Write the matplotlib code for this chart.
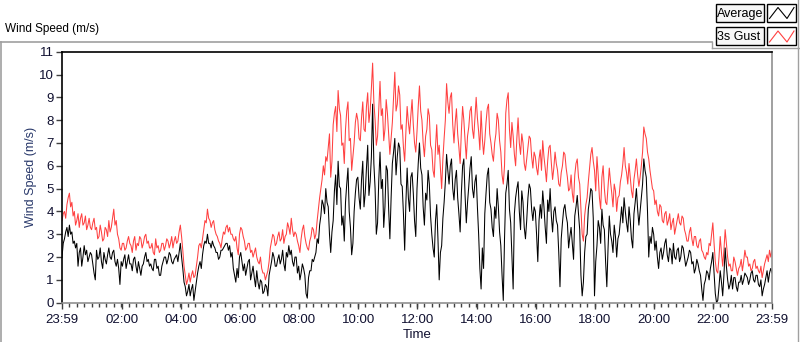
import numpy as np
import matplotlib
matplotlib.use("Agg")
from matplotlib import pyplot as plt
from matplotlib.lines import Line2D
from matplotlib.patches import Rectangle

plt.rcParams["font.family"] = ["Liberation Sans", "DejaVu Sans"]

# samples every 2.5 minutes, starting 23:59 (one row per hour)
SAMPLE_MIN = 2.5

gust_speed = [
    3.6, 3.9, 4.0, 3.7, 4.3, 4.6, 4.8, 4.2, 4.4, 3.8, 4.0, 3.4, 3.6, 3.9, 3.3, 3.7, 3.9, 3.4, 3.5, 3.8, 3.2, 3.4, 3.7, 3.3,
    3.2, 3.5, 3.7, 3.2, 3.3, 2.8, 2.9, 3.4, 3.1, 2.7, 2.8, 3.3, 3.2, 2.9, 3.6, 3.1, 3.3, 3.7, 4.1, 3.4, 3.6, 3.0, 2.8, 2.4,
    2.3, 2.6, 2.6, 2.3, 2.4, 2.7, 2.9, 2.6, 2.5, 2.2, 2.7, 2.9, 2.3, 2.6, 2.5, 2.9, 2.8, 2.4, 2.6, 2.9, 3.0, 2.6, 2.7, 2.4,
    2.4, 2.6, 2.2, 2.1, 2.8, 2.4, 2.5, 2.2, 2.3, 2.6, 2.6, 2.3, 2.5, 2.8, 2.7, 2.4, 2.6, 2.9, 2.4, 2.7, 2.9, 2.6, 2.7, 3.1,
    3.4, 2.9, 2.3, 1.6, 1.2, 0.8, 1.0, 1.3, 0.9, 1.2, 1.4, 1.1, 1.2, 1.6, 2.0, 2.5, 2.6, 2.4, 2.8, 3.2, 3.6, 3.5, 4.1, 3.7,
    3.6, 3.3, 3.5, 3.6, 3.2, 3.0, 2.9, 2.7, 2.6, 2.4, 2.8, 3.1, 3.0, 3.3, 3.4, 3.1, 3.3, 3.0, 3.0, 2.8, 2.7, 2.9, 2.4, 2.1,
    3.0, 3.3, 3.2, 2.9, 2.7, 2.3, 2.4, 2.6, 2.6, 2.2, 2.3, 2.0, 2.2, 2.4, 2.0, 1.8, 1.7, 2.0, 1.5, 1.3, 1.3, 1.0, 1.2, 1.4,
    1.8, 2.4, 2.7, 3.0, 2.9, 2.5, 2.6, 2.9, 3.1, 2.7, 2.8, 3.2, 2.6, 2.9, 3.0, 3.5, 3.3, 3.0, 3.7, 3.2, 2.9, 3.1, 3.0, 2.7,
    2.5, 2.2, 2.8, 3.2, 3.4, 2.9, 2.6, 2.4, 2.3, 2.7, 2.9, 3.3, 3.2, 2.8, 3.0, 3.6, 4.1, 4.6, 5.0, 5.4, 6.0, 5.6, 6.4, 6.2,
    6.8, 7.4, 5.5, 6.2, 7.8, 8.3, 8.6, 7.5, 9.3, 8.5, 8.2, 6.9, 7.0, 6.1, 7.6, 8.4, 8.8, 7.1, 7.2, 5.8, 6.4, 7.0, 7.9, 8.3,
    8.0, 7.2, 7.1, 8.1, 8.8, 7.6, 7.5, 8.6, 9.2, 7.9, 8.4, 9.4, 10.5, 8.8, 8.0, 6.9, 7.3, 8.5, 9.7, 8.2, 8.5, 7.1, 7.6, 8.9,
    8.3, 7.4, 6.5, 7.2, 7.9, 9.0, 10.1, 8.4, 8.7, 9.5, 9.1, 7.6, 7.8, 6.8, 6.2, 7.5, 8.6, 7.9, 7.4, 8.2, 8.9, 7.8, 7.0, 6.6,
    7.5, 8.6, 9.5, 8.4, 8.0, 7.0, 6.4, 7.3, 7.6, 8.5, 8.2, 6.9, 6.7, 5.8, 5.5, 6.8, 7.8, 6.5, 6.9, 5.9, 5.0, 6.3, 7.2, 8.0,
    9.6, 8.8, 8.3, 9.0, 9.2, 7.8, 7.0, 7.9, 8.5, 7.4, 6.8, 6.1, 7.5, 8.6, 8.0, 7.1, 6.3, 7.3, 7.7, 8.4, 8.6, 7.6, 7.2, 8.1,
    9.0, 8.1, 7.5, 6.7, 8.4, 7.2, 6.5, 7.1, 7.9, 8.5, 8.7, 7.4, 7.0, 6.5, 6.2, 7.0, 7.4, 8.3, 8.0, 7.1, 6.6, 5.6, 5.2, 6.0,
    8.3, 8.9, 9.2, 7.6, 6.8, 7.9, 7.3, 6.5, 6.0, 7.2, 8.1, 7.0, 6.5, 7.4, 7.0, 6.1, 5.8, 6.3, 6.8, 7.3, 7.2, 6.4, 5.9, 6.6,
    6.4, 5.9, 5.6, 6.3, 6.7, 5.8, 7.1, 6.4, 5.9, 5.3, 6.2, 6.8, 6.9, 6.1, 5.4, 5.9, 6.6, 6.1, 5.8, 5.2, 5.1, 5.7, 6.0, 6.6,
    6.5, 5.9, 5.5, 4.9, 5.0, 5.6, 4.8, 4.4, 5.6, 6.1, 6.3, 5.5, 5.2, 4.1, 3.0, 2.7, 3.8, 4.3, 4.6, 5.3, 5.9, 6.5, 6.8, 6.2,
    5.8, 4.9, 6.4, 5.6, 4.6, 4.1, 5.5, 6.0, 5.0, 4.4, 4.3, 5.1, 5.9, 5.3, 4.8, 4.2, 5.2, 4.9, 4.0, 4.6, 4.7, 5.3, 5.6, 6.1,
    6.8, 6.0, 5.7, 5.2, 6.1, 5.5, 4.9, 4.6, 5.4, 5.8, 6.3, 5.6, 5.1, 5.5, 6.0, 6.6, 7.7, 7.4, 7.2, 6.6, 6.3, 5.8, 5.4, 5.0,
    4.9, 4.3, 4.5, 4.0, 3.8, 4.3, 4.2, 3.6, 3.5, 3.9, 4.0, 3.4, 3.6, 3.9, 3.2, 3.5, 3.7, 3.0, 3.3, 3.6, 3.9, 3.5, 3.4, 3.8,
    3.7, 3.2, 3.0, 2.7, 2.7, 3.1, 3.3, 2.8, 2.5, 2.9, 2.9, 2.5, 2.4, 2.7, 2.8, 2.3, 2.2, 2.0, 1.9, 2.2, 2.1, 2.6, 2.5, 3.0,
    3.5, 2.6, 1.8, 1.4, 1.3, 2.0, 2.9, 2.2, 1.6, 2.3, 3.2, 2.6, 2.0, 1.6, 1.7, 1.4, 1.4, 2.0, 1.8, 1.5, 1.2, 1.5, 1.6, 1.9,
    1.4, 1.8, 2.3, 2.0, 2.0, 1.6, 1.7, 1.4, 1.5, 1.8, 1.9, 1.5, 1.6, 1.4, 1.3, 1.6, 1.1, 1.4, 1.7, 1.9, 2.1, 1.8, 2.3, 2.0,
    2.3,
]

avg_speed = [
    2.0, 2.6, 2.8, 3.1, 3.3, 2.9, 3.4, 3.0, 3.1, 2.6, 2.7, 2.4, 2.6, 1.6, 2.2, 2.4, 1.6, 2.0, 2.5, 2.1, 2.3, 1.8, 2.0, 2.2,
    2.1, 1.7, 1.3, 1.0, 2.3, 1.9, 2.0, 2.4, 1.8, 1.5, 2.2, 1.9, 1.7, 2.1, 2.4, 2.0, 1.9, 2.2, 2.3, 1.8, 1.6, 1.9, 1.5, 0.8,
    1.8, 1.6, 1.9, 2.1, 1.5, 1.8, 2.1, 1.7, 1.7, 1.4, 1.9, 2.0, 1.6, 1.3, 1.8, 1.5, 1.2, 1.6, 1.7, 2.0, 2.2, 1.8, 1.9, 1.6,
    1.7, 1.5, 1.4, 1.9, 1.9, 1.5, 1.6, 1.2, 1.2, 1.6, 1.8, 2.0, 2.0, 1.7, 1.9, 2.2, 2.1, 1.8, 1.7, 1.9, 2.0, 2.1, 1.8, 2.2,
    2.6, 2.0, 1.5, 0.9, 0.7, 0.3, 0.5, 0.8, 0.3, 0.6, 0.8, 0.1, 0.5, 0.9, 1.3, 1.6, 1.8, 1.5, 2.1, 2.5, 2.7, 2.6, 3.0, 2.6,
    2.6, 2.4, 2.7, 2.5, 2.4, 2.2, 2.2, 1.9, 2.0, 2.3, 2.3, 2.4, 2.5, 2.6, 2.6, 2.3, 2.5, 2.0, 2.2, 1.5, 1.2, 0.9, 1.5, 1.1,
    2.0, 2.2, 1.8, 1.4, 1.7, 1.2, 1.5, 1.8, 1.9, 1.0, 1.3, 1.6, 1.1, 0.7, 1.4, 0.9, 0.6, 1.0, 0.9, 0.4, 0.5, 0.8, 0.7, 0.3,
    1.2, 1.5, 1.8, 2.2, 2.0, 1.6, 1.6, 1.9, 2.1, 1.7, 1.9, 2.3, 1.7, 1.4, 2.2, 2.0, 2.5, 2.1, 2.3, 1.8, 1.6, 2.0, 2.0, 1.3,
    1.6, 1.0, 1.3, 1.7, 1.5, 1.2, 0.4, 0.2, 1.1, 1.4, 1.4, 1.9, 1.8, 2.0, 2.2, 2.8, 2.6, 3.4, 3.8, 4.5, 4.3, 3.9, 5.0, 4.4,
    4.2, 3.0, 2.2, 3.1, 3.6, 4.9, 5.6, 4.3, 6.2, 5.1, 5.0, 3.4, 3.8, 2.7, 4.4, 5.2, 5.9, 4.0, 3.3, 2.1, 2.6, 4.0, 4.8, 5.4,
    5.5, 4.6, 4.1, 5.4, 6.2, 4.2, 4.8, 5.9, 6.9, 4.7, 5.3, 6.4, 8.7, 6.1, 5.0, 3.0, 3.5, 5.4, 6.6, 5.0, 5.4, 3.3, 4.2, 6.0,
    5.8, 4.1, 2.8, 4.6, 6.1, 6.6, 7.2, 5.6, 6.4, 7.0, 6.8, 5.2, 5.1, 3.9, 2.3, 4.4, 5.9, 4.6, 4.0, 5.5, 5.7, 4.8, 3.6, 2.9,
    5.0, 6.1, 7.0, 5.9, 5.6, 4.2, 3.4, 4.8, 4.5, 5.8, 5.2, 3.8, 3.0, 2.4, 2.0, 3.6, 4.3, 2.8, 1.0, 2.2, 2.5, 3.7, 4.4, 5.3,
    6.5, 5.8, 5.2, 6.0, 6.3, 5.0, 4.5, 5.4, 5.8, 4.6, 3.9, 3.1, 4.8, 6.0, 6.3, 4.7, 3.5, 4.4, 5.1, 5.9, 6.4, 5.0, 4.6, 5.3,
    5.6, 4.2, 3.0, 1.5, 0.6, 2.4, 1.5, 3.9, 4.8, 5.6, 5.9, 4.4, 4.1, 3.3, 2.9, 4.2, 3.7, 5.0, 4.2, 3.1, 2.5, 1.2, 0.1, 2.8,
    4.8, 5.2, 5.8, 4.1, 3.5, 2.0, 0.6, 3.9, 4.6, 5.0, 5.3, 4.0, 3.2, 4.9, 4.4, 3.3, 2.8, 3.6, 4.6, 5.2, 5.0, 4.1, 3.6, 4.2,
    4.0, 3.0, 1.8, 3.6, 4.3, 3.7, 4.9, 4.2, 3.3, 2.6, 4.5, 4.0, 5.0, 3.8, 3.1, 4.0, 4.2, 3.6, 3.4, 2.2, 0.7, 2.8, 3.5, 4.1,
    4.3, 3.8, 3.5, 2.4, 2.9, 3.3, 2.6, 1.9, 3.8, 4.2, 4.7, 3.9, 3.2, 1.2, 0.3, 0.9, 2.2, 2.9, 3.0, 4.1, 4.5, 5.0, 4.9, 3.7,
    0.3, 1.8, 2.5, 3.6, 3.3, 2.6, 4.1, 3.4, 3.2, 1.8, 0.7, 2.4, 3.8, 3.0, 2.7, 2.2, 3.4, 2.9, 2.0, 2.8, 3.0, 3.6, 4.2, 3.5,
    4.6, 4.0, 3.5, 3.1, 4.2, 3.6, 2.8, 2.4, 3.9, 4.4, 5.0, 4.1, 3.4, 4.0, 4.6, 5.2, 6.3, 5.8, 5.5, 4.0, 2.0, 2.9, 2.6, 3.3,
    3.0, 2.3, 2.7, 2.0, 1.5, 2.2, 2.4, 1.9, 2.2, 2.6, 2.8, 2.1, 1.8, 2.4, 2.3, 1.7, 2.6, 2.0, 1.9, 2.3, 2.4, 1.8, 2.0, 2.5,
    2.4, 2.0, 1.6, 1.8, 2.0, 2.3, 2.2, 1.7, 1.8, 1.3, 1.5, 1.9, 1.7, 1.4, 1.2, 0.6, 0.1, 0.8, 1.0, 1.4, 1.3, 1.0, 1.5, 1.8,
    2.2, 1.3, 0.4, 0.0, 0.1, 0.7, 1.4, 0.9, 0.3, 1.2, 2.4, 1.6, 1.0, 0.6, 0.8, 1.2, 0.6, 1.1, 1.1, 0.7, 0.5, 0.9, 0.9, 1.2,
    0.8, 1.0, 1.3, 1.2, 1.1, 0.8, 1.0, 1.3, 1.4, 1.0, 0.9, 1.2, 1.2, 0.8, 0.7, 1.0, 0.3, 0.6, 0.8, 1.1, 1.4, 0.9, 1.3, 1.5,
    1.3,
]

tick_labels = ["23:59", "02:00", "04:00", "06:00", "08:00", "10:00", "12:00",
               "14:00", "16:00", "18:00", "20:00", "22:00", "23:59"]

W, H = 800, 342


def fx(px):
    return px / W


def fy(py):
    return 1 - py / H


t_gust = np.arange(len(gust_speed)) * SAMPLE_MIN / 60.0
t_avg = np.arange(len(avg_speed)) * SAMPLE_MIN / 60.0

fig = plt.figure(figsize=(W / 100, H / 100), dpi=100)
fig.patch.set_facecolor("white")
ax = fig.add_axes([fx(62), fy(302.7), (772 - 62) / W, (302.7 - 51.7) / H])

ax.plot(t_gust, gust_speed, color="#ff4040", lw=0.75)
ax.plot(t_avg, avg_speed, color="black", lw=0.75)

ax.set_xlim(0, 24)
ax.set_ylim(0, 11)

major = [0] + [2 * k + 1 / 60 for k in range(1, 12)] + [24]
ax.set_xticks(major)
ax.set_xticklabels(tick_labels)
minor = [m / 4 for m in range(1, 96)]
ax.set_xticks(minor, minor=True)
ax.set_yticks(range(0, 12))

tick_col = "#101030"
ax.tick_params(axis="both", which="major", labelsize=9.5, colors="#404040",
               labelcolor=tick_col, length=4, width=1, direction="out", pad=2)
ax.tick_params(axis="x", which="major", pad=4)
ax.tick_params(axis="x", which="minor", length=3, width=1, colors="#404040")
ax.tick_params(axis="y", which="minor", length=0)

ax.spines["top"].set_color("black")
ax.spines["left"].set_color("black")
ax.spines["right"].set_color("#909090")
ax.spines["bottom"].set_color("#909090")
for s in ax.spines.values():
    s.set_linewidth(1.2)

ax.set_xlabel("Time", fontsize=9.5, color=tick_col, labelpad=2.5)
ax.set_ylabel("Wind Speed (m/s)", fontsize=9, color="#28386a", labelpad=1)

# outer panel frame
grey = "#a0a0a0"
fig.add_artist(Line2D([fx(0), fx(712)], [fy(42), fy(42)], color=grey, lw=1.2))
fig.add_artist(Line2D([fx(1), fx(1)], [fy(42), fy(342)], color=grey, lw=1.2))
fig.add_artist(Line2D([fx(712), fx(712)], [fy(42), fy(48)], color=grey, lw=1))
fig.add_artist(Line2D([fx(712), fx(800)], [fy(48), fy(48)], color=grey, lw=1))
fig.add_artist(Line2D([fx(798), fx(798)], [fy(0), fy(342)], color=grey, lw=1))
fig.text(fx(5), fy(32), "Wind Speed (m/s)", fontsize=8.5, color="black")

# legend boxes
legend_rows = [("Average", "black", 3.5), ("3s Gust", "#ff4040", 27)]
for name, col, top in legend_rows:
    fig.add_artist(Rectangle((fx(715.5), fy(top + 18)), 48.5 / W, 18 / H,
                             transform=fig.transFigure, facecolor="#f7f7f7",
                             edgecolor="black", lw=1))
    fig.text(fx(717), fy(top + 10), name, fontsize=9, va="center",
             color="black")
    fig.add_artist(Rectangle((fx(767), fy(top + 18)), 29 / W, 18 / H,
                             transform=fig.transFigure, facecolor="white",
                             edgecolor="black", lw=1))
    xs = [769.5, 778, 787, 794]
    ys = [top + 15, top + 4, top + 15, top + 4]
    fig.add_artist(Line2D([fx(v) for v in xs], [fy(v) for v in ys],
                          color=col, lw=0.8))

fig.savefig("out.png", dpi=100)
